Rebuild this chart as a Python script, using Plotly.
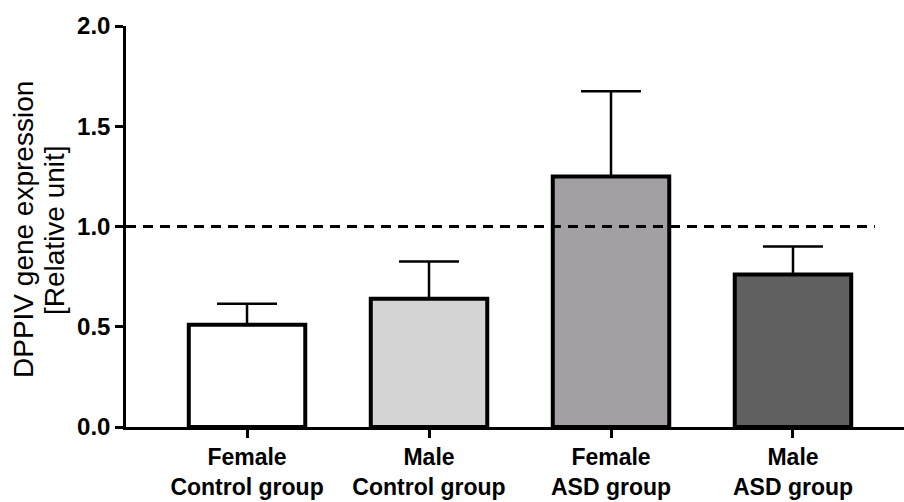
import plotly.graph_objects as go

# Group labels, mean relative expression and upper error (SEM)
groups = ["Female<br>Control group", "Male<br>Control group",
          "Female<br>ASD group", "Male<br>ASD group"]
means = [0.51, 0.64, 1.25, 0.76]
sem = [0.105, 0.185, 0.425, 0.14]
fill_colors = ["#ffffff", "#d4d4d4", "#a49fa4", "#616161"]
reference_level = 1.0
y_ticks = [0.0, 0.5, 1.0, 1.5, 2.0]
y_title_lines = ["DPPIV gene expression", "[Relative unit]"]

FONT = "Liberation Sans, Arial, sans-serif"
positions = list(range(len(groups)))
PLOT_W = 904 - 126
PLOT_H = 502 - 26 - 75

fig = go.Figure()
fig.add_trace(go.Bar(
    x=positions,
    y=means,
    width=0.64,
    marker=dict(color=fill_colors, line=dict(color="black", width=4)),
    error_y=dict(type="data", symmetric=False, array=sem,
                 arrayminus=[0] * len(sem), color="black",
                 thickness=2.5, width=30),
    showlegend=False,
))

# Dashed reference line at relative expression of 1
fig.add_shape(type="line", xref="x", yref="y",
              x0=-0.665, x1=3.45, y0=reference_level, y1=reference_level,
              line=dict(color="black", width=3, dash="10px,7px"),
              layer="above")

fig.update_layout(
    width=904, height=502,
    margin=dict(l=126, r=0, t=26, b=75),
    paper_bgcolor="white", plot_bgcolor="white",
    font=dict(family=FONT, color="black"),
)
fig.update_xaxes(
    range=[-0.665, 3.61],
    tickmode="array", tickvals=positions, ticktext=groups,
    tickfont=dict(family=FONT, size=23, weight="bold", color="black"),
    showline=True, linecolor="black", linewidth=2.5,
    ticks="outside", ticklen=8, tickwidth=2.5, tickcolor="black",
    showgrid=False, zeroline=False, fixedrange=True,
)
fig.update_yaxes(
    range=[0, 2.0],
    tickmode="array", tickvals=y_ticks,
    ticktext=[f"{v:.1f}" for v in y_ticks],
    tickfont=dict(family=FONT, size=24, weight="bold", color="black"),
    showline=True, linecolor="black", linewidth=2.5,
    ticks="outside", ticklen=8, tickwidth=2.5, tickcolor="black",
    showgrid=False, zeroline=False, fixedrange=True,
)

# Two-line y-axis title, one annotation per line
for line_text, x_px in zip(y_title_lines, [23, 54]):
    fig.add_annotation(
        text=line_text,
        xref="paper", yref="paper", x=(x_px - 126) / PLOT_W,
        y=(427 - 230) / PLOT_H,
        xanchor="center", yanchor="middle", textangle=-90,
        showarrow=False, font=dict(family=FONT, size=28, color="black"),
    )

fig.write_html("out.html")
